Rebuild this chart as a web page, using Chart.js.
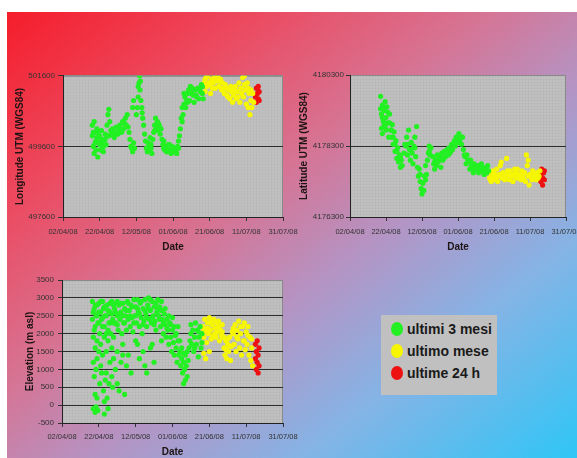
<!DOCTYPE html>
<html>
<head>
<meta charset="utf-8">
<script src="https://cdn.jsdelivr.net/npm/chart.js@4.4.1/dist/chart.umd.min.js"></script>
<style>
  html, body { margin: 0; padding: 0; width: 577px; height: 458px; overflow: hidden; background: #fff; }
  #bg { position: absolute; left: 7px; top: 12px; width: 570px; height: 446px;
        background: linear-gradient(to bottom right, #f51d2b 0%, #ec4a60 22%, #d67494 42%, #b494c4 58%, #84b4e6 76%, #2ec6f6 100%); }
  canvas { position: absolute; }
  #legend { position: absolute; left: 381px; top: 315px; width: 116px; height: 80px; background: #c0c0c0;
            font: bold 14px 'Liberation Sans', Arial, sans-serif; color: #1a1a1a; }
  #legend .row { position: absolute; left: 10px; height: 16px; line-height: 16px; white-space: nowrap; }
  #legend .dot { position: absolute; left: 0; top: 1px; width: 12px; height: 14px; border-radius: 50%; }
  #legend .txt { position: absolute; left: 16px; top: 0; }
</style>
</head>
<body>
<div id="bg"></div>
<canvas id="lonChart" width="300" height="190" style="left:8px;top:68px"></canvas>
<canvas id="latChart" width="300" height="190" style="left:292px;top:68px"></canvas>
<canvas id="eleChart" width="300" height="188" style="left:8px;top:270px"></canvas>
<div id="legend"></div>
<script>
// x values are days since 02/04/08
const dateLabels = ['02/04/08', '22/04/08', '12/05/08', '01/06/08', '21/06/08', '11/07/08', '31/07/08'];
const seriesNames = ['ultimi 3 mesi', 'ultimo mese', 'ultime 24 h'];
const seriesColors = ['#22f022', '#f6f600', '#ee1111'];

const lonTicks = [497600, 499600, 501600];
const latTicks = [4176300, 4178300, 4180300];
const eleTicks = [-500, 0, 500, 1000, 1500, 2000, 2500, 3000, 3500];

const lonGreen = [
  [16,500200],[16,499900],[16.5,499600],[17,500300],[17,499400],[17.5,500000],[18,499750],[18,499500],[18.5,500100],[19,499300],[19.5,499700],
  [20,499900],[20.5,499500],[21,500050],[21.5,499700],[22,499450],[22.5,499800],[23,499950],[23.5,499650],
  [24,500200],[24.5,500500],[25,500650],[25.5,500300],[25,499900],
  [26.5,499950],[27,500100],[28,499850],[28.5,500000],[29,500150],[30,499950],[30.5,500050],[31,500200],[32,500000],[32.5,500300],[33,500100],
  [34,500400],[34.5,500200],[35,500500],[35.5,500150],[36.5,499800],[37,499600],[38,499450],[38.5,499700],[39,499550],
  [38,500700],[38.5,500900],[40,500500],[41,501000],[41.5,501400],[41.8,501600],[42,501200],[42.5,500900],[43,500700],[43.5,500400],[44,500200],[44.5,499950],[45,499750],[45.5,499550],[46,499450],
  [46.5,499700],[47,499500],[47.5,499850],[48,499650],[48.5,499400],[49,499800],
  [49.5,500000],[50,500200],[50.5,500400],[51,500100],[51.5,500300],[52,500050],[52.5,500200],[53,499950],[53.5,500100],[54,499800],
  [54.5,499650],[55,499750],[55.5,499500],[56,499600],[57,499450],[57.5,499650],[58,499500],[59,499400],[59.5,499600],[60,499450],[61,499550],[62,499400],[62.5,499600],[63,499750],
  [63.5,499900],[64,500100],[64.5,500400],[65,500700],[65.5,500500],[66,500800],[66.5,501000],[67,500700],
  [67.5,500900],[68,501100],[68.5,501200],[69,500900],[69.5,501300],[70,501100],[71,501050],[71.5,500850],[72,501200],[73,501000],[73.5,501250],[74,500950],[75,501150],[75.5,501350],[76,501100],[76.5,500950],
  [16.5,500000],[17.5,499700],[18.5,499850],[19,500000],[20,499650],[21,499800],[22,499600],[23,499800],[24,499900],[26,500050],[27.5,499900],[29.5,500000],[31.5,500100],[33.5,500250],
  [36,500000],[37.5,499550],[40.5,500700],[41,501300],[42.2,501450],[43.2,500550],[47,499650],[48,499550],[50,500050],[52,500250],[55,499550],[56.5,499450],[58,499650],[60.5,499550],
  [61.5,499450],[63,499550],[65,500300],[66,501100],[68,500850],[69,501150],[70.5,501250],[72.5,501050],[74.5,501200],[76,501300]
];
const lonYellow = [
  [77,501400],[77.5,501150],[78,501550],[78.5,501300],[79,501600],[80,501350],[80.5,501100],[81,501500],[82,501400],[82.5,501600],[83,501250],[84,501450],[84.5,501600],[85,501300],
  [86,501500],[86.5,501200],[87,501400],[88,501100],[88.5,501350],[89,501250],[90,501000],[90.5,501200],[91,500950],[92,501150],[92.5,500850],[93,501050],[94,501300],[94.5,500950],
  [95,501150],[96,501400],[96.5,500850],[97,501250],[98,501550],[98.5,501000],[99,501600],[99.5,501200],[100,500800],[100.5,501400],[101,500700],[101.5,501100],[102,500500],[102.5,500900],[103,500700],[103.5,501100],
  [77.5,501500],[79.5,501400],[81.5,501250],[83.5,501500],[85.5,501450],[87.5,501250],[89.5,501050],[91.5,501300],[93.5,501200],[95.5,501000],[97.5,501100],[99,501350],[101,501250],[102.5,501200],[104,500850]
];
const lonRed = [
  [105,501000],[105.5,501250],[105.5,500850],[106,501100],[106.5,501300],[106.5,500950],[107,501150],[107,500900]
];

const latGreen = [
  [17,4179700],[17.5,4179200],[17.5,4178800],[18,4179450],[18,4178650],[18.5,4179000],[19,4179300],[19.5,4178850],[19.5,4179550],[20,4179100],[20.5,4179400],[21,4178950],[21.5,4178550],[22,4179200],[22.5,4178750],
  [23,4178550],[23.5,4178900],[24,4178350],[24.5,4178700],[25,4178150],[25.5,4178450],[26,4177950],[26.5,4178250],[27,4177850],[27.5,4178050],[28,4177700],[28.5,4177900],[29,4177750],
  [30,4178100],[31,4178300],[31.5,4178550],[32,4178050],[32.5,4178750],[33,4178200],[33.5,4177900],[34,4178400],[34.5,4178100],[35,4177800],[35.5,4178300],[36,4178550],[36.5,4178000],[37,4178850],[37.5,4177700],[38,4177450],[38.5,4177650],
  [39,4177300],[39.5,4177100],[40,4176950],[40.5,4177250],[41,4177050],[41.5,4177450],[42,4177750],[42.5,4177500],
  [43,4177900],[43.5,4178100],[44,4178300],[44.5,4178050],[45,4178250],
  [46,4178000],[46.5,4177800],[47,4177650],[47.5,4177900],[48,4177750],[48.5,4178050],[49,4177850],[50,4178000],[50.5,4177700],[51,4178100],[52,4177950],[52.5,4178150],[53,4178000],
  [54,4178200],[54.5,4178050],[55,4178250],[56,4178150],[56.5,4178350],[57,4178200],[58,4178450],[58.5,4178300],[59,4178550],[60,4178400],[60.5,4178650],[61,4178450],[62,4178350],[62.5,4178550],[63,4178200],
  [64,4178000],[64.5,4177800],[65,4178050],[66,4177850],[66.5,4177650],[67,4177900],[68,4177700],[68.5,4177550],[69,4177800],[70,4177650],[71,4177750],[71.5,4177550],[72,4177700],[73,4177800],[73.5,4177600],
  [74,4177700],[74.5,4177500],[75,4177650],[76,4177550],[76.5,4177750],[77,4177600],
  [17,4179350],[18,4179100],[18.5,4179400],[19,4178900],[20,4178750],[21,4179250],[22,4178950],[23,4178750],[24,4178550],[25,4178350],[26,4178150],[28,4178000],[30.5,4178350],[32,4178350],
  [34,4178200],[36,4178250],[39,4177500],[40.5,4177050],[42,4177350],[44,4178150],[47,4177850],[49.5,4177950],[51.5,4177900],[55.5,4178100],[57.5,4178350],[59.5,4178500],[61.5,4178550],
  [63.5,4178050],[65.5,4177900],[67.5,4177750],[69.5,4177650],[72.5,4177600],[75.5,4177550]
];
const latYellow = [
  [77.5,4177400],[78,4177550],[78.5,4177300],[79,4177450],[79.5,4177600],[80,4177350],[80.5,4177500],[81,4177400],[81.5,4177650],[82,4177300],[83,4177500],[83.5,4177750],[84,4177850],[84.5,4177400],
  [85,4177550],[86,4177350],[86.5,4177450],[87,4177950],[87.5,4177600],[88,4177500],[88.5,4177350],[89,4177600],[90,4177450],[90.5,4177300],[91,4177500],[91.5,4177650],[92,4177550],[93,4177650],
  [93.5,4177400],[94,4177500],[95,4177350],[95.5,4177600],[96,4177450],[97,4177550],[97.5,4177300],[98,4178050],[98.5,4177750],[99,4177900],[99.5,4177200],[100,4177500],[101,4177350],[101.5,4177600],
  [102,4177450],[103,4177500],[103.5,4177350],[104,4177550],[105,4177450],[105.5,4177600],
  [78,4177350],[80,4177450],[82.5,4177450],[85.5,4177400],[89.5,4177450],[92.5,4177400],[94.5,4177450],[96.5,4177350],[99,4177450],[100.5,4177450],[102.5,4177400],[104.5,4177400]
];
const latRed = [
  [106,4177500],[106,4177300],[106.5,4177650],[107,4177400],[107,4177200],[107.5,4177550],[108,4177350],[108,4177600]
];

const eleGreen = [
  [16.5,2900],[16.5,2400],[17,1900],[17,1200],[17,-100],[17.5,2700],[17.5,2100],[17.5,800],[18,1600],[18,300],[18,-200],[18.5,2500],[18.5,1000],[19,2800],[19,1800],[19,200],[19.5,2300],[19.5,-150],[20,1500],[20,2600],[20.5,2000],[20.5,600],
  [21,2900],[21,1700],[21.5,2400],[21.5,900],[22,2200],[22,1400],[22.5,2700],[22.5,400],[23,1900],[23,-250],[23.5,2500],[23.5,700],[24,2000],[24,1500],[24.5,2800],[24.5,200],[25,1800],[25,-100],[25.5,2300],[25.5,600],[26,2600],[26,1200],[26.5,2000],[27,2900],[27,1600],[27.5,2400],[27.5,500],[28,1900],[28,1300],
  [28.5,2700],[29,2300],[29,1000],[29.5,2850],[30,2500],[30,1500],[30.5,2100],[31,2800],[31,400],[31.5,2400],[32,2600],[32,1200],[32.5,2000],[33,2850],[33,1700],[33.5,2300],[34,2700],[34,300],[34.5,2500],[35,2100],[35,1100],[35.5,2900],[36,2400],[36,1400],[36.5,2650],[37,2200],[37.5,2800],[37.5,900],[38,2450],[38.5,2050],[39,2950],
  [39.5,2500],[40,2750],[40,1800],[40.5,2300],[41,2950],[41.5,2600],[42,2200],[42,1300],[42.5,2850],[43,2450],[43.5,2000],[44,2700],[44,1500],[44.5,2350],[45,2950],[45.5,2550],[46,2200],[46,900],[46.5,2800],[47,3000],[47.5,2400],[48,2650],[48,1600],[48.5,2300],[49,2900],[49.5,2500],[50,2750],[50,1200],[50.5,2350],[51,2100],[51.5,2600],
  [52,2950],[52.5,2500],[53,2750],[53.5,2200],[54,2650],[54,1800],[54.5,2400],[55,2000],[55.5,2550],[56,2250],[56.5,1900],[57,2400],[57.5,2100],[58,1700],[58.5,2300],[59,1900],[59.5,1500],[60,2100],[60.5,1750],[61,1400],[61.5,1950],[62,1600],[62.5,1200],[63,1800],[63.5,1400],
  [64,1500],[64.5,1100],[65,1300],[65.5,900],[66,1200],[66,600],[66.5,1000],[67,1400],[67,700],[67.5,1100],[68,800],[68,1500],[68.5,1250],[69,1600],[69.5,1800],[70,2000],
  [70.5,1700],[71,2100],[71.5,1500],[72,1900],[72.5,2300],[73,1700],[73.5,2100],[74,1350],[74.5,1900],[75,2200],[75.5,1600],[76,2000],
  [17,2600],[18,2800],[18,2200],[19,2500],[20,2850],[20,2300],[21,2600],[22,2900],[22,2450],[23,2750],[23,2200],[24,2500],[25,2650],[25,2100],[26,2850],[26,2300],[27,2550],[28,2800],[28,2300],
  [29,2600],[30,2900],[30,2250],[31,2550],[32,2850],[33,2500],[34,2300],[35,2650],[36,2850],[37,2500],[38,2750],[39,2300],[40,2500],[41,2700],[42,2550],[43,2900],[44,2250],[45,2650],
  [46,2450],[47,2700],[48,2950],[49,2450],[50,2250],[51,2850],[52,2700],[53,2400],[54,2900],[55,2300],[56,2700],[57,2150],[58,2500],[59,2250],[60,2450],[61,2200],[62,2000],[63,2200],
  [64,1800],[65,1600],[66,1450],[70,2250],[72,1600],[74,2050],[76,1750],
  [19,1300],[21,1100],[24,900],[27,800],[30,600],[33,1400],[41,1700],[45,1100],[49,1700],[23,100],[18.5,-50]
];
const eleYellow = [
  [76.5,2200],[77,1900],[77.5,2400],[78,2050],[78.5,1750],[79,2300],[79.5,2000],[80,2450],[80.5,2100],[81,1850],[81.5,2250],[82,1950],[82.5,2400],[83,2150],[83.5,1900],[84,2300],[84.5,2050],[85,2200],[85.5,1800],[86,2100],[86.5,1950],[87,2250],
  [77,1450],[78,1300],[80,1500],
  [87.5,1900],[88,1600],[88.5,1400],[89,1800],[89.5,1300],[90,1700],[90.5,1500],[91,1900],[91.5,1250],[92,1650],[92.5,2050],
  [93,2000],[93.5,1700],[94,2250],[94.5,1500],[95,2100],[95.5,1850],[96,2350],[96.5,1600],[97,2000],[97.5,1400],[98,2200],[98.5,1800],[99,2300],[99.5,1550],[100,2050],[100.5,1700],[101,2200],[101.5,1400],[102,1900],[102.5,1250],[103,1600],[103.5,1100],
  [77,2100],[79,2150],[81,2350],[83,2000],[85,2350],[87,2050],[89,1550],[91,1650],[93,2150],[95,1900],[97,2200],[99,1800],[101,1950],[103,1850],[88,1900],[90,1850]
];
const eleRed = [
  [105,1700],[105,1300],[105.5,1500],[105.5,1000],[106,1800],[106,1200],[106.5,1400],[106.5,900],[107,1600],[107,1100]
];

const FONT = "'Liberation Sans', Arial, sans-serif";
const tickColor = '#333';
const titleColor = '#1e1414';

// gray plot area with a faint fine grid, gray top/right frame
const plotBg = {
  id: 'plotBg',
  beforeDraw(chart) {
    const a = chart.chartArea, ctx = chart.ctx;
    ctx.save();
    ctx.fillStyle = '#c0c0c0';
    ctx.fillRect(a.left, a.top, a.width, a.height);
    ctx.strokeStyle = 'rgba(0,0,0,0.025)';
    ctx.lineWidth = 1;
    ctx.beginPath();
    for (let x = a.left + 1.5; x < a.right; x += 3) { ctx.moveTo(x, a.top); ctx.lineTo(x, a.bottom); }
    for (let y = a.top + 1.5; y < a.bottom; y += 3) { ctx.moveTo(a.left, y); ctx.lineTo(a.right, y); }
    ctx.stroke();
    ctx.strokeStyle = '#8a8a8a';
    ctx.beginPath();
    ctx.moveTo(a.left, a.top + 0.5); ctx.lineTo(a.right - 0.5, a.top + 0.5); ctx.lineTo(a.right - 0.5, a.bottom);
    ctx.stroke();
    ctx.restore();
  }
};

function makeChart(id, series, yTicks, yTitle, o) {
  const yMax = yTicks[yTicks.length - 1];
  return new Chart(document.getElementById(id), {
    type: 'scatter',
    data: {
      datasets: series.map((pts, i) => ({
        label: seriesNames[i],
        data: pts.map(([x, y]) => ({ x, y })),
        backgroundColor: seriesColors[i],
        borderWidth: 0,
        pointRadius: 2.6
      }))
    },
    options: {
      responsive: false,
      animation: false,
      layout: { padding: { left: 0, top: o.top, right: o.right, bottom: o.bottom } },
      plugins: { legend: { display: false }, tooltip: { enabled: false } },
      scales: {
        x: {
          type: 'linear',
          min: 0,
          max: 120,
          afterFit: s => { s.height = o.xHeight; },
          ticks: {
            stepSize: 20, autoSkip: false, maxRotation: 0, padding: o.xPad,
            color: tickColor, font: { family: FONT, size: 7.5 },
            callback: v => dateLabels[Math.round(v / 20)]
          },
          grid: { drawOnChartArea: false, tickLength: 4, tickColor: '#333' },
          border: { color: '#222' },
          title: {
            display: true, text: 'Date', color: titleColor,
            font: { family: FONT, size: 10, weight: 'bold' },
            padding: { top: 0, bottom: o.dateBottom }
          }
        },
        y: {
          min: yTicks[0],
          max: yMax,
          afterFit: s => { s.width = o.yWidth; },
          ticks: {
            stepSize: yTicks[1] - yTicks[0], padding: o.yPad,
            color: tickColor, font: { family: FONT, size: 8 },
            callback: v => String(v)
          },
          grid: {
            color: c => (c.tick && c.tick.value === yMax) ? '#8a8a8a' : '#2c2c2c',
            tickLength: o.yTick, tickColor: '#333'
          },
          border: { color: '#222' },
          title: {
            display: true, text: yTitle, color: titleColor,
            font: { family: FONT, size: 10, weight: 'bold' },
            padding: { top: o.yTitlePad, bottom: 0 }
          }
        }
      }
    },
    plugins: [plotBg]
  });
}

makeChart('lonChart', [lonGreen, lonYellow, lonRed], lonTicks, 'Longitude UTM (WGS84)',
  { top: 7, right: 25, bottom: 3, xHeight: 38, xPad: 6, dateBottom: 2, yWidth: 55, yPad: 3, yTick: 5, yTitlePad: 6 });
makeChart('latChart', [latGreen, latYellow, latRed], latTicks, 'Latitude UTM (WGS84)',
  { top: 7, right: 26, bottom: 3, xHeight: 38, xPad: 6, dateBottom: 2, yWidth: 58, yPad: 2, yTick: 4, yTitlePad: 6 });
makeChart('eleChart', [eleGreen, eleYellow, eleRed], eleTicks, 'Elevation (m asl)',
  { top: 10, right: 25, bottom: 0, xHeight: 35, xPad: 5, dateBottom: 0, yWidth: 54, yPad: 4, yTick: 4, yTitlePad: 16 });

// legend box built from the series names and colours
const legend = document.getElementById('legend');
const rowTops = [6, 28, 50];
seriesNames.forEach((name, i) => {
  const row = document.createElement('div');
  row.className = 'row';
  row.style.top = rowTops[i] + 'px';
  row.innerHTML = '<span class="dot" style="background:' + seriesColors[i] + '"></span><span class="txt">' + name + '</span>';
  legend.appendChild(row);
});
</script>
</body>
</html>
